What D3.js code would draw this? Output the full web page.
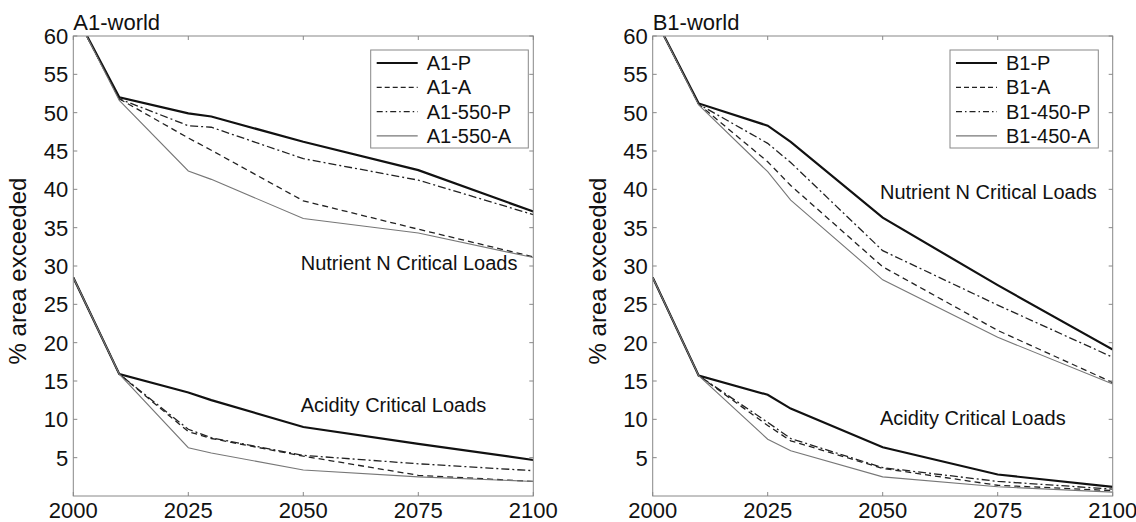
<!DOCTYPE html>
<html>
<head>
<meta charset="utf-8">
<script src="https://d3js.org/d3.v7.min.js"></script>
<style>
  body { margin: 0; background: #fff; }
  text { font-family: "Liberation Sans", Arial, Helvetica, sans-serif; fill: #111; }
  .tick-label { font-size: 22px; }
  .ylab { font-size: 24px; }
  .note { font-size: 20px; }
</style>
</head>
<body>
<svg id="chart" width="1136" height="522"></svg>
<script>
// years on the x axis
var years = [2000, 2010, 2025, 2030, 2050, 2075, 2100];
var xTicks = [2000, 2025, 2050, 2075, 2100];
var yTicks = [5, 10, 15, 20, 25, 30, 35, 40, 45, 50, 55, 60];

// A1 world, nutrient N
var a1P_N    = [63.4, 52.0, 49.9, 49.5, 46.2, 42.5, 37.1];
var a1A_N    = [63.4, 51.8, 46.7, 45.1, 38.5, 34.8, 31.2];
var a1550P_N = [63.4, 51.8, 48.3, 48.1, 44.0, 41.2, 36.7];
var a1550A_N = [63.4, 51.6, 42.4, 41.3, 36.2, 34.3, 31.1];
// A1 world, acidity
var a1P_Ac    = [28.5, 15.9, 13.5, 12.5, 9.0, 6.8, 4.7];
var a1A_Ac    = [28.5, 15.9, 8.4, 7.5, 5.2, 2.7, 1.9];
var a1550P_Ac = [28.5, 15.9, 8.7, 7.6, 5.3, 4.2, 3.3];
var a1550A_Ac = [28.5, 15.9, 6.3, 5.6, 3.4, 2.5, 1.9];

// B1 world, nutrient N
var b1P_N    = [62.9, 51.2, 48.3, 46.2, 36.3, 27.5, 19.1];
var b1A_N    = [62.9, 51.1, 43.6, 40.5, 29.9, 21.6, 14.8];
var b1450P_N = [62.9, 51.1, 46.0, 43.5, 32.0, 24.9, 18.1];
var b1450A_N = [62.9, 51.0, 42.3, 38.6, 28.2, 20.7, 14.6];
// B1 world, acidity
var b1P_Ac    = [28.5, 15.7, 13.2, 11.4, 6.35, 2.8, 1.2];
var b1A_Ac    = [28.5, 15.7, 9.2, 7.2, 3.6, 1.4, 0.7];
var b1450P_Ac = [28.5, 15.7, 9.6, 7.5, 3.7, 1.9, 0.9];
var b1450A_Ac = [28.5, 15.7, 7.4, 5.9, 2.5, 1.2, 0.5];

// line styles, same order as legends
var styles = [
  { stroke: "#111", width: 2.2, dash: null },
  { stroke: "#222", width: 1.3, dash: "6,4" },
  { stroke: "#222", width: 1.3, dash: "8,3,2,3" },
  { stroke: "#777", width: 1.1, dash: null }
];

var svg = d3.select("#chart");

function drawPanel(opt) {
  var x = d3.scaleLinear().domain([2000, 2100]).range([opt.left, opt.left + 460]);
  var y = d3.scaleLinear().domain([0, 60]).range([496, 36]);
  var g = svg.append("g");

  var clipId = "clip" + opt.id;
  g.append("clipPath").attr("id", clipId)
    .append("rect").attr("x", x(2000)).attr("y", y(60))
    .attr("width", x(2100) - x(2000)).attr("height", y(0) - y(60));

  var line = d3.line()
    .x(function(d, i) { return x(years[i]); })
    .y(function(d) { return y(d); });

  var lines = g.append("g").attr("clip-path", "url(#" + clipId + ")");
  opt.series.forEach(function(s, i) {
    var st = styles[i % 4];
    lines.append("path")
      .attr("d", line(s))
      .attr("fill", "none")
      .attr("stroke", st.stroke)
      .attr("stroke-width", st.width)
      .attr("stroke-dasharray", st.dash);
  });

  // box with inward ticks
  var frame = g.append("g").attr("stroke", "#888").attr("stroke-width", 1).attr("fill", "none");
  frame.append("rect").attr("x", x(2000)).attr("y", y(60))
    .attr("width", x(2100) - x(2000)).attr("height", y(0) - y(60));
  xTicks.forEach(function(t) {
    frame.append("line").attr("x1", x(t)).attr("x2", x(t)).attr("y1", y(0)).attr("y2", y(0) - 4);
    frame.append("line").attr("x1", x(t)).attr("x2", x(t)).attr("y1", y(60)).attr("y2", y(60) + 4);
  });
  yTicks.forEach(function(t) {
    frame.append("line").attr("x1", x(2000)).attr("x2", x(2000) + 4).attr("y1", y(t)).attr("y2", y(t));
    frame.append("line").attr("x1", x(2100)).attr("x2", x(2100) - 4).attr("y1", y(t)).attr("y2", y(t));
  });

  g.selectAll(".xl").data(xTicks).enter().append("text")
    .attr("class", "tick-label")
    .attr("x", function(d) { return x(d); })
    .attr("y", 518)
    .attr("text-anchor", "middle")
    .text(function(d) { return d; });
  g.selectAll(".yl").data(yTicks).enter().append("text")
    .attr("class", "tick-label")
    .attr("x", x(2000) - 5)
    .attr("y", function(d) { return y(d) + 8; })
    .attr("text-anchor", "end")
    .text(function(d) { return d; });

  g.append("text").attr("class", "tick-label")
    .attr("x", x(2000)).attr("y", 30).text(opt.title);

  g.append("text").attr("class", "ylab")
    .attr("transform", "translate(" + (x(2000) - 47) + "," + ((y(0) + y(60)) / 2 + 5) + ") rotate(-90)")
    .attr("text-anchor", "middle")
    .text("% area exceeded");

  g.append("text").attr("class", "note").attr("x", opt.nx).attr("y", opt.ny).text("Nutrient N Critical Loads");
  g.append("text").attr("class", "note").attr("x", opt.ax).attr("y", opt.ay).text("Acidity Critical Loads");

  // legend
  var lg = g.append("g");
  lg.append("rect").attr("x", opt.lx).attr("y", 50).attr("width", opt.lw).attr("height", 98)
    .attr("fill", "#fff").attr("stroke", "#888").attr("stroke-width", 1);
  opt.names.forEach(function(n, i) {
    var st = styles[i];
    var ly = 63 + i * 24.3;
    lg.append("line").attr("x1", opt.lx + 6).attr("x2", opt.lx + 47)
      .attr("y1", ly).attr("y2", ly)
      .attr("stroke", st.stroke).attr("stroke-width", st.width)
      .attr("stroke-dasharray", st.dash === "6,4" ? "5,3" : st.dash === null ? null : "6,3,1.5,3");
    lg.append("text").attr("class", "note").attr("x", opt.lx + 56).attr("y", ly + 7).text(n);
  });
}

drawPanel({
  id: "a", left: 73.3, title: "A1-world",
  series: [a1P_N, a1A_N, a1550P_N, a1550A_N, a1P_Ac, a1A_Ac, a1550P_Ac, a1550A_Ac],
  names: ["A1-P", "A1-A", "A1-550-P", "A1-550-A"],
  lx: 370.7, lw: 157.6,
  nx: 300.7, ny: 270, ax: 300.7, ay: 412
});
drawPanel({
  id: "b", left: 652.7, title: "B1-world",
  series: [b1P_N, b1A_N, b1450P_N, b1450A_N, b1P_Ac, b1A_Ac, b1450P_Ac, b1450A_Ac],
  names: ["B1-P", "B1-A", "B1-450-P", "B1-450-A"],
  lx: 950, lw: 148.3,
  nx: 880, ny: 199, ax: 880, ay: 425
});
</script>
</body>
</html>
